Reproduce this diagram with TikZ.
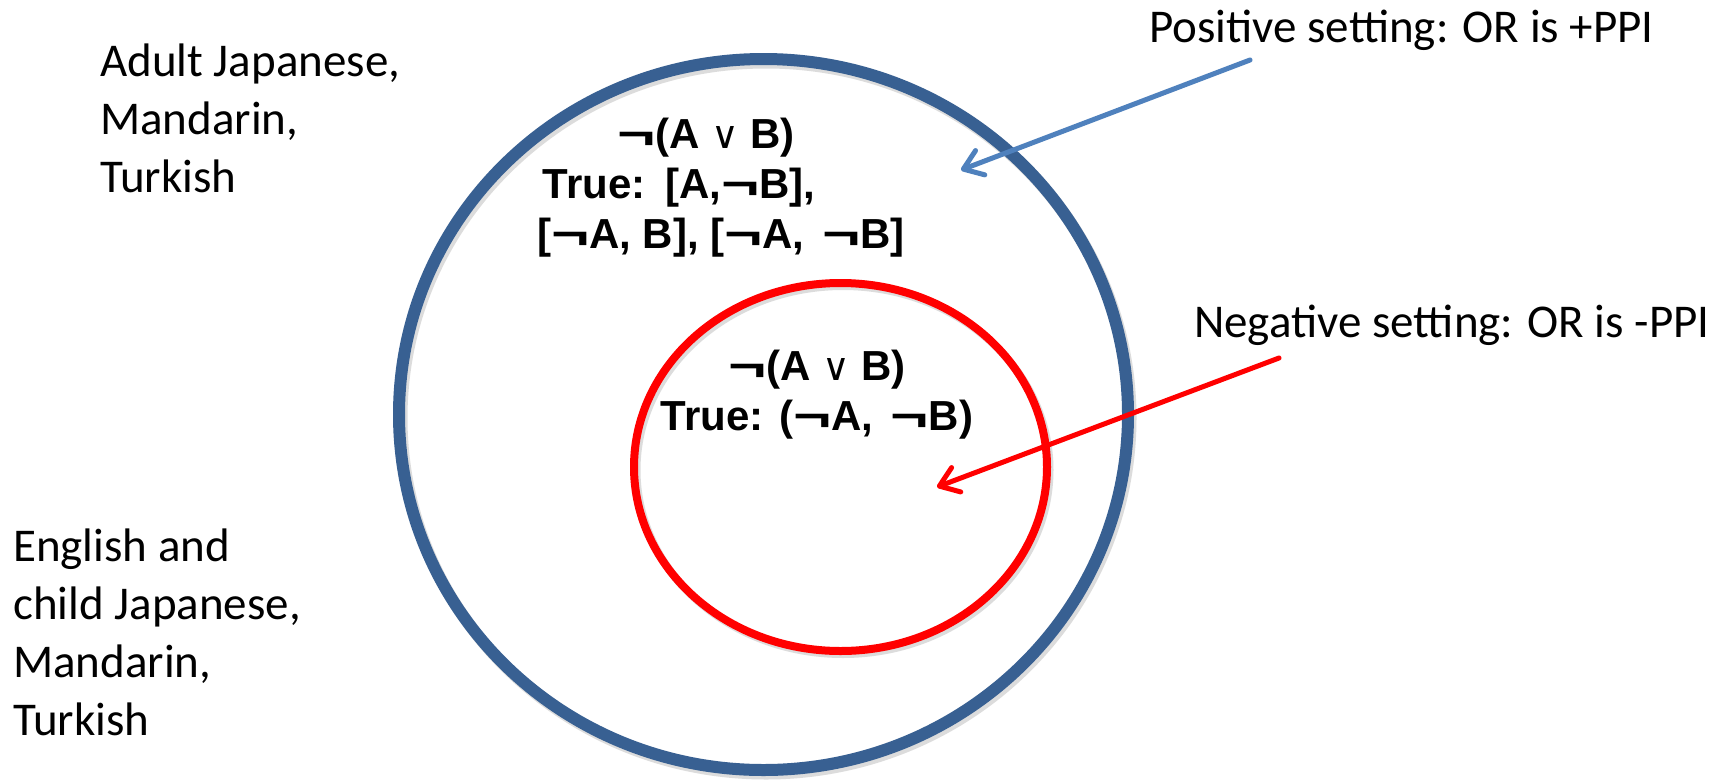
\documentclass[tikz,border=0pt]{standalone}
\usepackage{fontspec}
\usepackage{graphicx}
\usetikzlibrary{arrows.meta}
\newfontfamily\carlito{Carlito}
\newfontfamily\arial{Liberation Sans}
\newfontfamily\djv{DejaVu Sans}
\newcommand\ngt{\scalebox{1.55}[1]{¬}}
\newcommand\vor{{\djv\mdseries\fontsize{38}{38}\selectfont ∨}}
\definecolor{ringblue}{RGB}{56,96,146}
\definecolor{arrowblue}{RGB}{79,129,189}
\definecolor{ringred}{RGB}{255,0,0}
\begin{document}
\begin{tikzpicture}[x=1pt,y=-1pt,
  lbl/.style={font=\carlito\fontsize{47}{58}\selectfont, inner sep=0pt, align=left},
  fml/.style={font=\arial\bfseries\fontsize{42}{50}\selectfont, inner sep=0pt, align=center},
  shadowline/.style={black!30, opacity=0.45},
  pointer/.style={line width=5pt, line cap=round, -{Straight Barb[length=18pt,width=26pt,round]}}]
\useasboundingbox (0,0) rectangle (1732,780);
\fill[white] (0,0) rectangle (1732,780);
% soft shadows
\draw[shadowline, line width=12pt] (766,418) ellipse [x radius=364.5pt, y radius=355.5pt];
\draw[shadowline, line width=8pt] (843,470) ellipse [x radius=206.5pt, y radius=184pt];
% rings
\draw[ringblue, line width=12pt] (763.5,414.5) ellipse [x radius=364.5pt, y radius=355.5pt];
\draw[ringred, line width=8pt] (840.5,467) ellipse [x radius=206.5pt, y radius=184pt];
% texts (base anchor of a multi-line node is its last baseline)
\node[lbl, anchor=base west] (adult) at (100,192) {Adult Japanese,\\Mandarin,\\Turkish};
\node[lbl, anchor=base west] (eng) at (13,735) {English and\\child Japanese,\\Mandarin,\\Turkish};
\node[lbl, anchor=base west] (pos) at (1149,42) {Positive setting: OR is +PPI};
\node[lbl, anchor=base west] (neg) at (1194,337) {Negative setting: OR is -PPI};
\node[fml, anchor=base] (outerf) at (706,248) {\ngt(A \vor{} B)\\True:\hspace{4pt} [A,\ngt B],\hspace*{54pt}\null\\\hspace*{30pt}[\ngt A, B], [\ngt A,\hspace{6pt} \ngt B]};
\node[fml, anchor=base] (innerf) at (817,430) {\ngt(A \vor{} B)\\True: (\ngt A,\hspace{6pt} \ngt B)};
% arrows
\coordinate (posstart) at (1250,60);
\coordinate (postip) at (961,170);
\coordinate (negstart) at (1279,358);
\coordinate (negtip) at (937,487);
\draw[pointer, arrowblue] (posstart) -- (postip);
\draw[pointer, ringred] (negstart) -- (negtip);
\end{tikzpicture}
\end{document}
